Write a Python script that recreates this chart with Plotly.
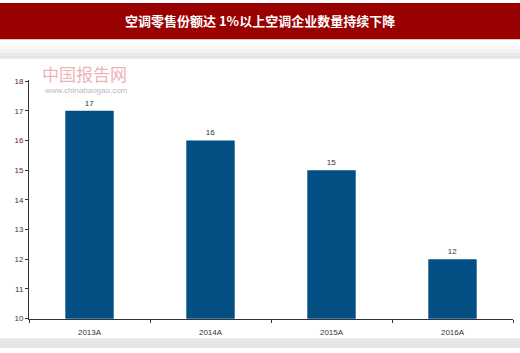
import plotly.graph_objects as go

categories = ["2013A", "2014A", "2015A", "2016A"]
values = [17, 16, 15, 12]
y_ticks = [10, 11, 12, 13, 14, 15, 16, 17, 18]

W, H = 520, 353
def py(v):  # pixel y -> paper
    return 1 - v / H
def px(v):
    return v / W

fig = go.Figure()
fig.add_trace(go.Bar(
    x=categories, y=values, width=0.4,
    marker=dict(color="#034f84", line=dict(width=0)),
    text=[str(v) for v in values], textposition="outside",
    textfont=dict(size=8, color="#333333", family="Arial"),
    cliponaxis=False,
))

shapes = [
    dict(type="rect", xref="paper", yref="paper", x0=0, x1=1, y0=py(37), y1=1,
         fillcolor="#990000", line=dict(width=0), layer="below"),
]
grad = ["#fbfbfb", "#f6f6f6", "#f0f0f0", "#eaeaea", "#e4e4e4"]
for i, c in enumerate(grad):
    shapes.append(dict(type="rect", xref="paper", yref="paper", x0=0, x1=1,
                       y0=py(42 + 3 * (i + 1)), y1=py(42 + 3 * i),
                       fillcolor=c, line=dict(width=0), layer="below"))
shapes.append(dict(type="rect", xref="paper", yref="paper", x0=0, x1=1,
                   y0=0, y1=py(343), fillcolor="#e6e6e6", line=dict(width=0), layer="below"))

fig.update_layout(
    width=W, height=H, margin=dict(l=0, r=0, t=0, b=0),
    paper_bgcolor="white", plot_bgcolor="white",
    showlegend=False, shapes=shapes, bargap=0.6,
    xaxis=dict(domain=[px(29), px(513)], showline=True, linecolor="#333333", linewidth=1,
               ticks="outside", tickson="boundaries", ticklen=3, tickcolor="#333333",
               tickfont=dict(size=8, color="#333333", family="Arial"),
               ticklabelstandoff=6, showgrid=False),
    yaxis=dict(domain=[1 - 323 / H, 1 - 79 / H], range=[10, 18.03], tickvals=y_ticks,
               showline=True, linecolor="#333333", linewidth=1,
               ticks="outside", ticklen=3, tickcolor="#333333",
               tickfont=dict(size=8, color="#5a2a2a", family="Arial"),
               showgrid=False, zeroline=False),
    annotations=[
        dict(text="<b>空调零售份额达 1%以上空调企业数量持续下降</b>", xref="paper", yref="paper",
             x=0.5, y=py(18), xanchor="center", yanchor="middle", showarrow=False,
             font=dict(size=13, color="white", family="Noto Sans CJK SC")),
        dict(text="中国报告网", xref="paper", yref="paper", x=px(40), y=py(72),
             xanchor="left", yanchor="middle", showarrow=False,
             font=dict(size=17, color="rgba(220,110,110,0.55)", family="Noto Sans CJK SC")),
        dict(text="www.chinabaogao.com", xref="paper", yref="paper", x=px(42), y=py(90),
             xanchor="left", yanchor="middle", showarrow=False,
             font=dict(size=8, color="rgba(150,150,150,0.7)", family="Arial")),
    ],
)

fig.write_html("out.html")
